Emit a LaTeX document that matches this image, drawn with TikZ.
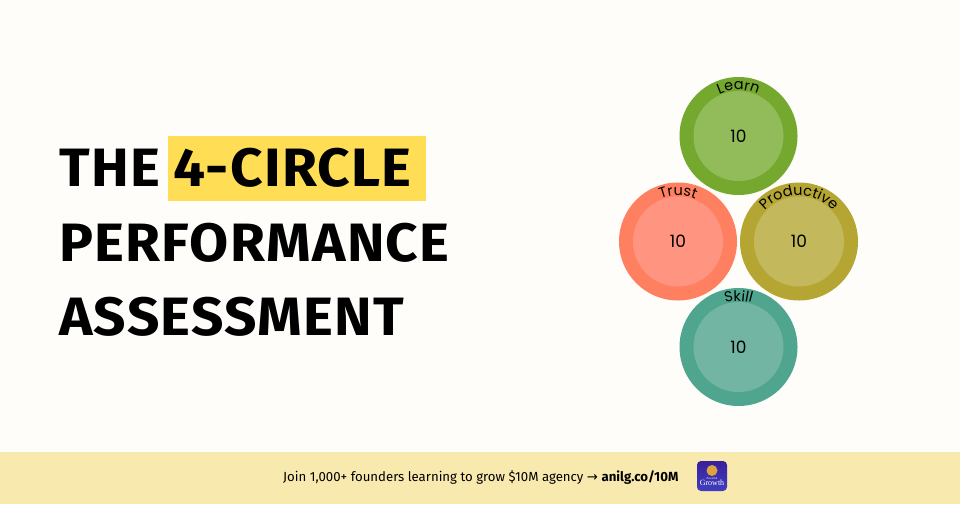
\documentclass[tikz,border=0pt]{standalone}
\usepackage{fontspec}
\setmainfont{Fira Sans}
\newfontfamily\titlefont[FakeStretch=1.05,LetterSpace=2.4]{Fira Sans}
\newfontfamily\circlefont{Poppins}
\newfontfamily\arrowfont{DejaVu Sans}
\newfontfamily\badgefont{Liberation Serif}
\usetikzlibrary{decorations.text}
\definecolor{paper}{HTML}{FEFDF9}
\definecolor{band}{HTML}{F8E9AE}
\definecolor{marker}{HTML}{FFDD55}
\definecolor{learnout}{HTML}{74A82F}
\definecolor{learnin}{HTML}{92BC5A}
\definecolor{trustout}{HTML}{FF7F61}
\definecolor{trustin}{HTML}{FF9580}
\definecolor{prodout}{HTML}{B5A634}
\definecolor{prodin}{HTML}{C3B85C}
\definecolor{skillout}{HTML}{4FA58D}
\definecolor{skillin}{HTML}{72B5A3}
\definecolor{badgetop}{HTML}{3A1F9A}
\definecolor{badgebot}{HTML}{3F3FC0}
\definecolor{badgesun}{HTML}{D9A441}
\tikzset{
TITLE/.style={anchor=base west,inner sep=0pt,font=\titlefont\fontsize{54}{54}\selectfont\bfseries},
OUTER/.style={circle,draw=none,inner sep=0pt,minimum size=118pt},
INNER/.style={circle,draw=none,inner sep=0pt,minimum size=90pt,font=\circlefont\fontsize{17}{17}\selectfont},
ARCTEXT/.style={decorate,decoration={text along path,text align=center,text={|\circlefont\fontsize{14.5}{14.5}\selectfont|#1}}},
}
\begin{document}
\begin{tikzpicture}[x=1pt,y=-1pt]
	\useasboundingbox (0,0) rectangle (960,504);
	\fill[paper] (0,0) rectangle (960,504);
	\fill[band] (0,452) rectangle (960,504);
	\fill[marker] (167.5,136) rectangle (426,201);
	% title
	\node[TITLE] (the) at (59,186) {THE};
	\node[TITLE] (four) at (173,186) {4-CIRCLE};
	\node[TITLE] (perf) at (59,261) {PERFORMANCE};
	\node[TITLE] (assess) at (59,335) {ASSESSMENT};
	% circles
	\node[OUTER,fill=learnout] (learn) at (738.5,136) {};
	\node[OUTER,fill=trustout] (trust) at (678,241.5) {};
	\node[OUTER,fill=prodout] (prod) at (799,241.5) {};
	\node[OUTER,fill=skillout] (skill) at (738.5,347) {};
	\node[INNER,fill=learnin] (learnval) at (learn) {10};
	\node[INNER,fill=trustin] (trustval) at (trust) {10};
	\node[INNER,fill=prodin] (prodval) at (prod) {10};
	\node[INNER,fill=skillin] (skillval) at (skill) {10};
	\path[ARCTEXT=Learn] (learn)++(210:46) arc (210:330:46);
	\path[ARCTEXT=Trust] (trust)++(210:46) arc (210:330:46);
	\path[ARCTEXT=Productive] (prod)++(190:46) arc (190:350:46);
	\path[ARCTEXT=Skill] (skill)++(210:46) arc (210:330:46);
	% footer
	\node[anchor=base west,inner sep=0pt,font=\fontsize{13.2}{13.2}\selectfont] (join) at (283,481)
		{Join 1,000+ founders learning to grow \$10M agency {\arrowfont →} \textbf{anilg.co/10M}};
	\node[rectangle,rounded corners=4pt,top color=badgetop,bottom color=badgebot,minimum width=30pt,minimum height=30pt,inner sep=0pt] (logo) at (712,476) {};
	\fill[badgesun] (712,470.5) circle (5.5pt);
	\node[inner sep=0pt,text=white,font=\badgefont\fontsize{3}{3}\selectfont] (logotop) at (712,478.5) {Powerful};
	\node[inner sep=0pt,text=white,font=\badgefont\fontsize{8}{8}\selectfont] (logoname) at (712,483) {Growth};
\end{tikzpicture}
\end{document}
